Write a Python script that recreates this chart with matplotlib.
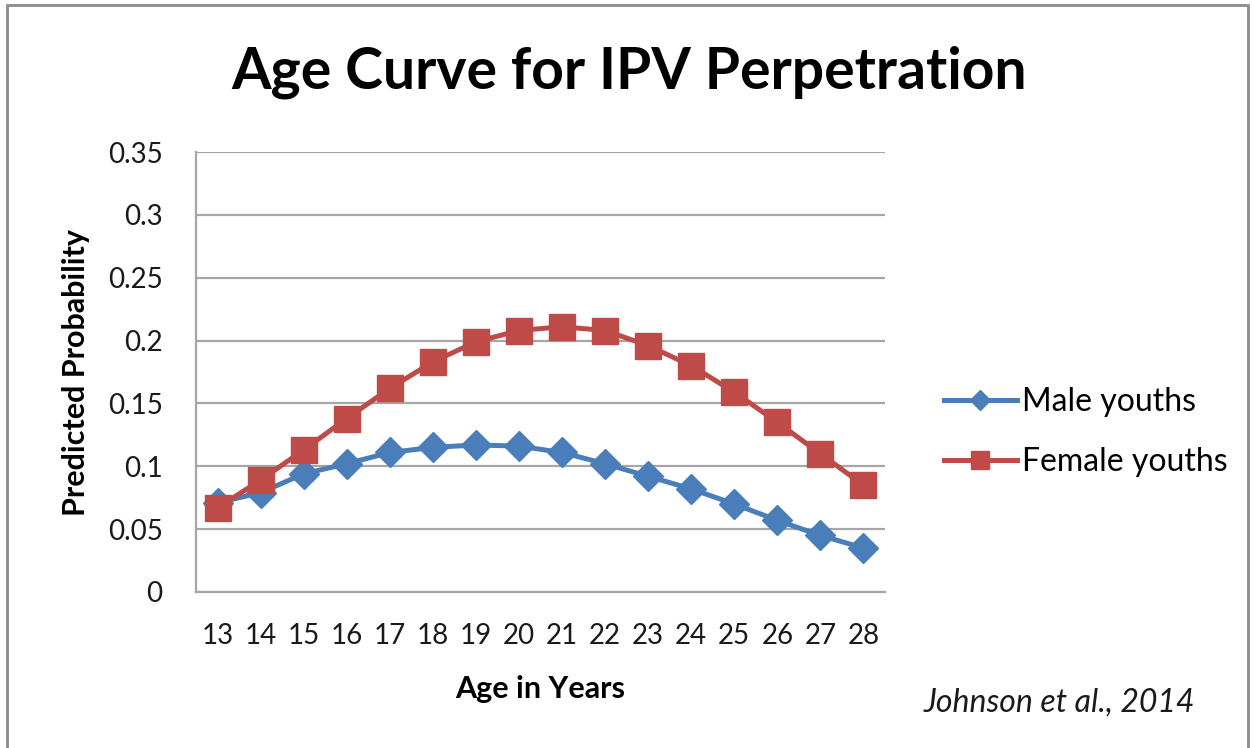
import matplotlib
matplotlib.use("Agg")
import matplotlib.pyplot as plt
from matplotlib.patches import Rectangle

### data ###
ages = list(range(13, 29))
male = [0.071, 0.079, 0.094, 0.102, 0.111, 0.115, 0.117, 0.116,
        0.111, 0.102, 0.092, 0.082, 0.070, 0.057, 0.045, 0.035]
female = [0.067, 0.089, 0.113, 0.138, 0.162, 0.183, 0.199, 0.208,
          0.211, 0.208, 0.196, 0.180, 0.159, 0.135, 0.110, 0.085]
yticks = [0, 0.05, 0.1, 0.15, 0.2, 0.25, 0.3, 0.35]
ytick_labels = ["0", "0.05", "0.1", "0.15", "0.2", "0.25", "0.3", "0.35"]

blue, red = "#4A7EBB", "#BE4B48"
W, H = 1253, 748

plt.rcParams["font.family"] = ["Lato", "DejaVu Sans"]

fig = plt.figure(figsize=(W / 100, H / 100), dpi=100)
ax = fig.add_axes([196 / W, 1 - 592 / H, (885 - 196) / W, (592 - 152) / H])

ax.plot(ages, male, color=blue, lw=3.6, marker="D", ms=15,
        label="Male youths", zorder=3)
ax.plot(ages, female, color=red, lw=3.6, marker="s", ms=19,
        label="Female youths", zorder=4)

ax.set_xlim(12.5, 28.5)
ax.set_ylim(0, 0.35)
ax.set_xticks(ages)
ax.set_xticklabels([str(a) for a in ages], fontsize=20, color="#1a1a1a")
ax.set_yticks(yticks)
ax.set_yticklabels(ytick_labels, fontsize=20, color="#1a1a1a")
ax.tick_params(length=0)
ax.tick_params(axis="y", pad=24)
ax.tick_params(axis="x", pad=22)
ax.grid(axis="y", color="#a6a6a6", lw=1.6)
ax.set_axisbelow(True)
for s in ["top", "right"]:
    ax.spines[s].set_visible(False)
for s in ["left", "bottom"]:
    ax.spines[s].set_color("#a6a6a6")
    ax.spines[s].set_linewidth(1.6)

ax.set_ylabel("Predicted Probability", fontsize=22, fontweight="bold")
ax.yaxis.set_label_coords((90 - 196) / 689, 0.5)
ax.set_xlabel("Age in Years", fontsize=22, fontweight="bold")
ax.xaxis.set_label_coords(0.5, (592 - 675) / 440)

fig.text(629 / W, 1 - 72 / H, "Age Curve for IPV Perpetration",
         fontsize=41, fontweight="bold", ha="center", va="center")
fig.text(1195 / W, 1 - 703 / H, "Johnson et al., 2014", fontsize=23,
         style="italic", ha="right", va="center", color="#1a1a1a")

ax.legend(loc="center left", bbox_to_anchor=(915 / W, 1 - 432 / H),
          bbox_transform=fig.transFigure, frameon=False, fontsize=23,
          handlelength=2.3, handletextpad=0.15, labelspacing=0.93,
          markerscale=0.7)

# outer frame
fig.patches.append(Rectangle((7 / W, -0.02), (1248 - 7) / W, 1.02 - 5 / H,
                             transform=fig.transFigure, fill=False,
                             edgecolor="#8c8c8c", lw=2))

fig.savefig("out.png", dpi=100)
